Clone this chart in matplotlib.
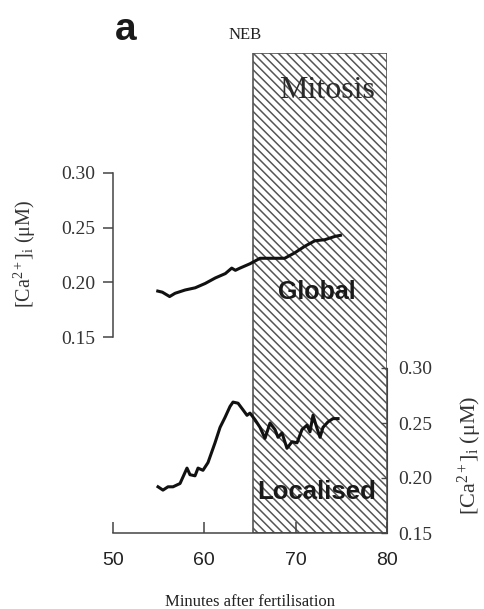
import matplotlib
matplotlib.use("Agg")
import matplotlib.pyplot as plt

plt.rcParams['hatch.linewidth'] = 1.1
plt.rcParams['hatch.color'] = '#6a6a6a'
plt.rcParams['mathtext.fontset'] = 'custom'
plt.rcParams['mathtext.rm'] = 'Liberation Serif'
plt.rcParams['mathtext.it'] = 'Liberation Serif:italic'

# Data
global_min = [54.9, 55.4, 56.2, 56.8, 57.9, 59.0, 60.1, 61.2, 62.3, 63.0, 63.4, 63.9, 65.0,
              66.1, 67.2, 68.8, 69.9, 71.0, 72.1, 73.2, 74.3, 74.9]
global_ca = [0.192, 0.191, 0.187, 0.190, 0.193, 0.195, 0.199, 0.204, 0.208, 0.213, 0.211, 0.213, 0.217,
             0.222, 0.222, 0.222, 0.227, 0.233, 0.238, 0.239, 0.242, 0.243]

local_min = [54.93, 55.47, 56.02, 56.57, 57.34, 58.10, 58.43, 58.98, 59.31, 59.85, 60.40, 61.17,
             61.72, 62.26, 62.81, 63.14, 63.69, 64.23, 64.67, 65.00, 65.55, 66.10, 66.64, 67.19,
             67.74, 68.07, 68.50, 69.05, 69.60, 70.15, 70.69, 71.24, 71.57, 71.90, 72.34, 72.67,
             72.99, 73.54, 74.09, 74.64]
local_ca = [0.192, 0.189, 0.192, 0.192, 0.195, 0.209, 0.203, 0.202, 0.209, 0.207, 0.214, 0.232,
            0.246, 0.255, 0.265, 0.269, 0.268, 0.262, 0.257, 0.259, 0.253, 0.246, 0.236, 0.250,
            0.244, 0.237, 0.241, 0.227, 0.233, 0.232, 0.244, 0.248, 0.242, 0.257, 0.245, 0.237,
            0.246, 0.251, 0.254, 0.254]

mitosis_span = (65.3, 80)
x_ticks = [50, 60, 70, 80]
y_ticks = [0.15, 0.20, 0.25, 0.30]
y_ticklabels = ['0.15', '0.20', '0.25', '0.30']

SERIF = ['Liberation Serif', 'DejaVu Serif']
SANS = ['Liberation Sans', 'DejaVu Sans']

W, H = 484, 609
fig = plt.figure(figsize=(W / 100, H / 100), dpi=100)

def rect(x0, y0, x1, y1):
    return [x0 / W, 1 - y1 / H, (x1 - x0) / W, (y1 - y0) / H]

# background axes with mitosis box
ax0 = fig.add_axes(rect(113, 53, 387, 533))
ax0.set_xlim(50, 80)
ax0.set_ylim(0, 1)
ax0.axvspan(*mitosis_span, facecolor='white', edgecolor='#555555', hatch='\\\\\\\\', lw=1.2)
ax0.axis('off')

# top axes: Global
ax1 = fig.add_axes(rect(113, 173, 387, 337))
ax1.patch.set_alpha(0)
ax1.plot(global_min, global_ca, color='#111111', lw=2.2, solid_joinstyle='round')
ax1.set_xlim(50, 80)
ax1.set_ylim(0.15, 0.30)
for s in ['top', 'right', 'bottom']:
    ax1.spines[s].set_visible(False)
ax1.spines['left'].set_color('#444444')
ax1.spines['left'].set_linewidth(1.1)
ax1.set_xticks([])
ax1.set_yticks(y_ticks)
ax1.set_yticklabels(y_ticklabels, family=SERIF, fontsize=14, color='#333333')
ax1.tick_params(axis='y', direction='out', length=7, width=1.1, color='#444444', pad=6)

# bottom axes: Localised
ax2 = fig.add_axes(rect(113, 368, 387, 533))
ax2.patch.set_alpha(0)
ax2.plot(local_min, local_ca, color='#111111', lw=2.2, solid_joinstyle='round')
ax2.set_xlim(50, 80)
ax2.set_ylim(0.15, 0.30)
ax2.spines['top'].set_visible(False)
ax2.spines['left'].set_visible(False)
ax2.spines['right'].set_color('#444444')
ax2.spines['bottom'].set_color('#444444')
ax2.spines['bottom'].set_linewidth(1.1)
ax2.yaxis.tick_right()
ax2.set_yticks(y_ticks)
ax2.set_yticklabels(y_ticklabels, family=SERIF, fontsize=14, color='#333333')
ax2.tick_params(axis='y', direction='in', length=4, width=1, color='#444444', pad=8)
ax2.set_xticks(x_ticks)
ax2.set_xticklabels([str(t) for t in x_ticks], family=SANS, fontsize=14, color='#222222')
ax2.tick_params(axis='x', direction='in', length=8, width=1.1, color='#444444', pad=14)

# labels
ylab = r'[Ca$^{2+}$]$_{\mathrm{i}}$ ($\mathrm{\mu}$M)'
fig.text(25 / W, 1 - 254 / H, ylab, rotation=90, ha='center', va='center',
         family=SERIF, fontsize=14.5, color='#333333')
fig.text(470 / W, 1 - 455 / H, ylab, rotation=90, ha='center', va='center',
         family=SERIF, fontsize=16, color='#333333')
fig.text(250 / W, 1 - 602 / H, 'Minutes after fertilisation', ha='center', va='center',
         family=SERIF, fontsize=12, color='#222222')

fig.text(126 / W, 1 - 30 / H, 'a', ha='center', va='center', family=SANS,
         fontsize=28, fontweight='bold', color='#1a1a1a')
fig.text(245 / W, 1 - 35 / H, 'NEB', ha='center', va='center', family=SERIF,
         fontsize=12, color='#222222')
fig.text(327 / W, 1 - 91 / H, 'Mitosis', ha='center', va='center', family=SERIF,
         fontsize=23, color='#2a2a2a')
fig.text(317 / W, 1 - 292 / H, 'Global', ha='center', va='center', family=SANS,
         fontsize=18, fontweight='bold', color='#1a1a1a')
fig.text(317 / W, 1 - 492 / H, 'Localised', ha='center', va='center', family=SANS,
         fontsize=18.5, fontweight='bold', color='#1a1a1a')

fig.savefig('out.png', dpi=100)
